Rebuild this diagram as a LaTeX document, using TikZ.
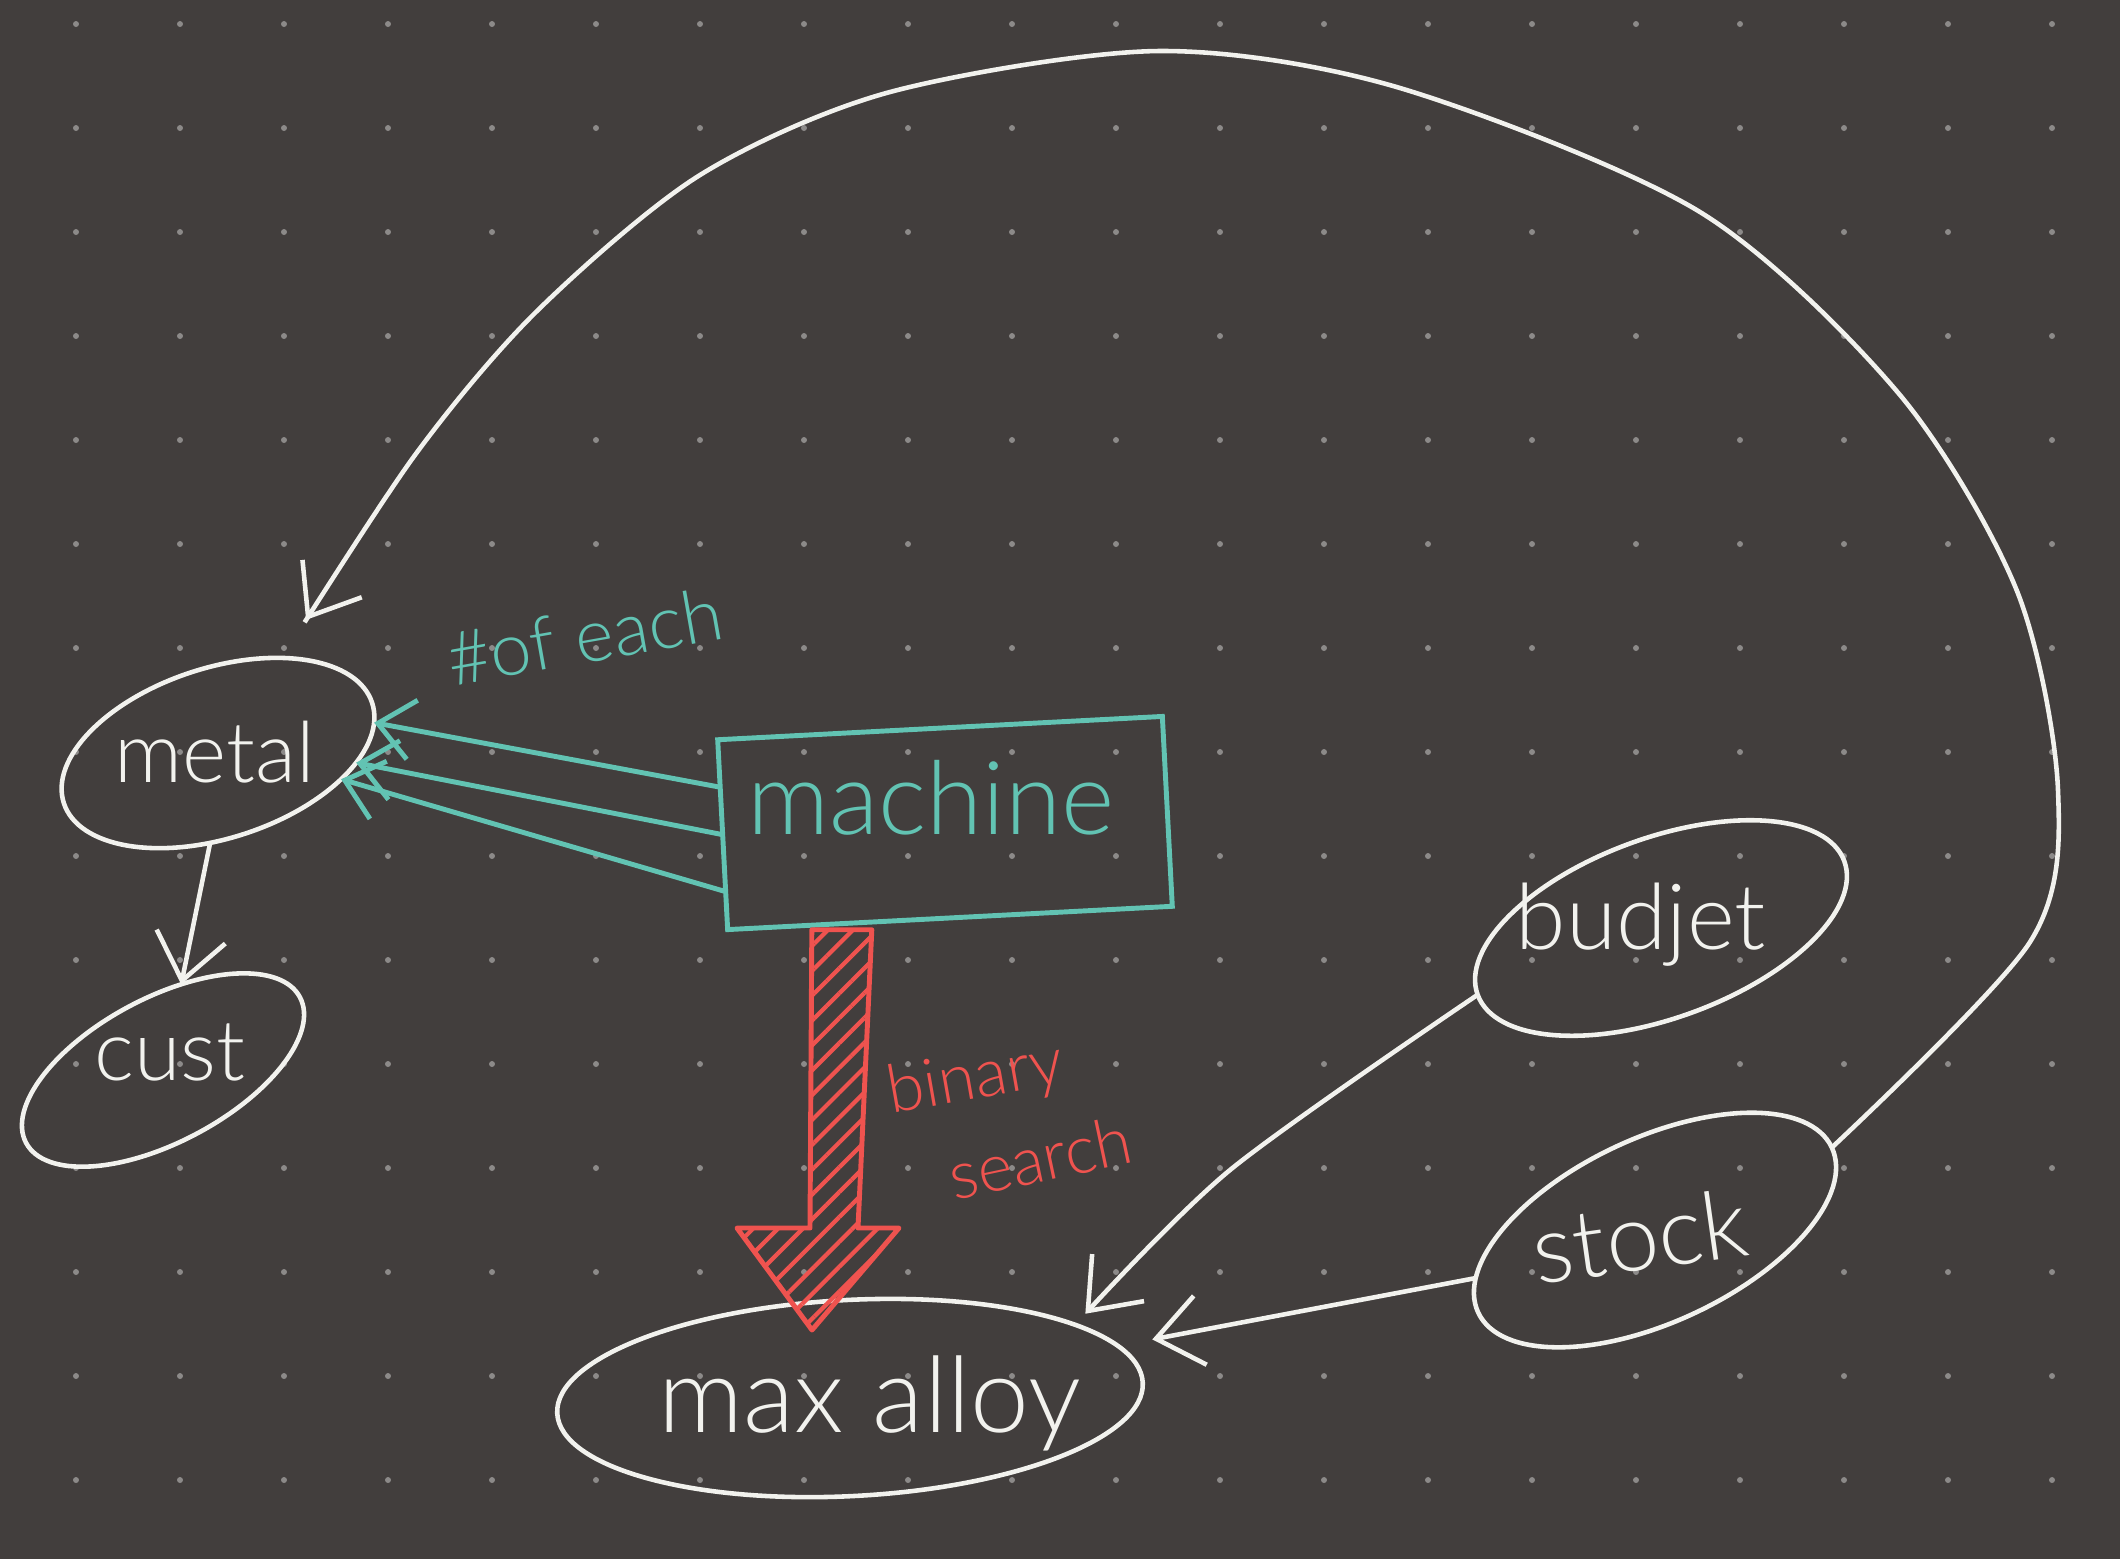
\documentclass[tikz,border=0pt]{standalone}
\usepackage{fontspec}
\setmainfont{Lato Light}
\usepackage{tikz}
\usetikzlibrary{positioning,shapes.geometric,arrows.meta,calc,patterns.meta}

\definecolor{board}{HTML}{423E3D}
\definecolor{dotgray}{HTML}{8C8A89}
\definecolor{chalk}{HTML}{F2F2EE}
\definecolor{mint}{HTML}{62C3B3}
\definecolor{alarm}{HTML}{EF534F}

\begin{document}
\begin{tikzpicture}
[x=0.01cm,y=-0.01cm,
 every node/.style={inner sep=0mm,outer sep=0mm},
 blob/.style={ellipse,draw=chalk,line width=1.3pt},
 mbox/.style={rectangle,draw=mint,line width=1.4pt},
 hand/.style={text=chalk},
 wire/.style={draw=chalk,line width=1.3pt,-{Straight Barb[length=4.5mm,width=7mm]}},
 link/.style={draw=mint,line width=1.4pt,-{Straight Barb[length=3.5mm,width=6mm]}},
 hatch/.style={draw=alarm,line width=1.4pt,line join=round,pattern={Lines[angle=45,distance=5pt,line width=1.2pt]},pattern color=alarm}]
\useasboundingbox (0,0) rectangle (2120,1559);
\fill[board] (0,0) rectangle (2120,1559);
\foreach \i in {0,...,19}
  \foreach \j in {0,...,14}
    \fill[dotgray] (76+104*\i,24+104*\j) circle[radius=0.85pt];

\node[blob,minimum width=3.24cm,minimum height=1.7cm,rotate=18] (metal) at (218,753) {};
\node[blob,minimum width=3.1cm,minimum height=1.44cm,rotate=28] (cust) at (163,1070) {};
\node[mbox,minimum width=4.45cm,minimum height=1.9cm,rotate=3] (machine) at (945,823) {};
\node[blob,minimum width=5.86cm,minimum height=1.96cm,rotate=3] (maxalloy) at (850,1398) {};
\node[blob,minimum width=3.9cm,minimum height=1.8cm,rotate=20] (budjet) at (1661,928) {};
\node[blob,minimum width=3.9cm,minimum height=1.84cm,rotate=25] (stock) at (1655,1230) {};

\node[hand,font=\fontsize{24}{26}\selectfont] (metalT) at (215,752) {metal};
\node[hand,font=\fontsize{24}{26}\selectfont] (custT) at (170,1052) {cust};
\node[hand,text=mint,font=\fontsize{29}{30}\selectfont] (machineT) at (931,798) {machine};
\node[hand,font=\fontsize{30}{32}\selectfont] (maxalloyT) at (870,1403) {max alloy};
\node[hand,font=\fontsize{26}{28}\selectfont] (budjetT) at (1641,925) {budjet};
\node[hand,font=\fontsize{27}{28}\selectfont,rotate=8] (stockT) at (1640,1236) {stock};
\node[hand,text=mint,font=\fontsize{21}{24}\selectfont,rotate=10] (eachT) at (585,636) {\#of each};
\node[hand,text=alarm,font=\fontsize{19}{21}\selectfont,rotate=10] (binaryT) at (976,1080) {binary};
\node[hand,text=alarm,font=\fontsize{19}{21}\selectfont,rotate=12] (searchT) at (1040,1158) {search};

\draw[link] ($(machine.north west)!0.25!(machine.south west)$) -- (metal.-7);
\draw[link] ($(machine.north west)!0.5!(machine.south west)$) -- (metal.-22);
\draw[link] ($(machine.north west)!0.8!(machine.south west)$) -- (metal.-30);

\draw[wire] (metal.247) -- (cust.50);
\draw[wire,shorten >=0.15cm] plot[smooth] coordinates {(budjet.west) (1230,1170) (maxalloy.15)};
\draw[wire,shorten >=0.35cm] (stock.170) -- (maxalloy.8);
\draw[wire,shorten >=0.45cm] plot[smooth] coordinates {(stock.east) (2030,942) (2058,790) (2017,591)
  (1900,395) (1700,212) (1400,88) (1159,51) (890,92) (700,175) (537,311) (415,455) (metal.38)};

\coordinate (rTop) at ($(machine.south west)!0.25!(machine.south east)$);
\coordinate (rTip) at (812,1330);
\path[hatch] ($(rTop)+(-27,6)$) -- ($(rTip)+(-2,-102)$) -- ($(rTip)+(-75,-102)$) -- (rTip)
  -- ($(rTip)+(87,-102)$) -- ($(rTip)+(46,-102)$) -- ($(rTop)+(33,6)$) -- cycle;
\end{tikzpicture}
\end{document}
